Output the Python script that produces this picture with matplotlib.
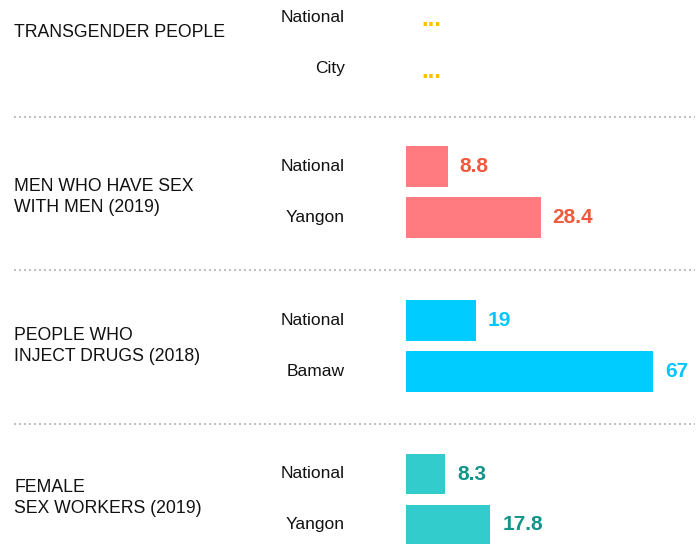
import numpy as np
import matplotlib.pyplot as plt
from matplotlib import transforms
from matplotlib.lines import Line2D

plt.rcParams['font.family'] = ['Liberation Sans', 'DejaVu Sans']

# data
groups = ['TRANSGENDER PEOPLE', 'MEN WHO HAVE SEX\nWITH MEN (2019)',
          'PEOPLE WHO\nINJECT DRUGS (2018)', 'FEMALE\nSEX WORKERS (2019)']
places = [['National', 'City'], ['National', 'Yangon'],
          ['National', 'Bamaw'], ['National', 'Yangon']]
values = [[None, None], [8.8, 28.4], [19, 67], [8.3, 17.8]]

# styling / layout
bar_colors = ['#FFC000', '#FF7B80', '#00CCFF', '#33CCCC']
text_colors = ['#FFC000', '#F05A3C', '#00C8FF', '#12948A']
xmax = [62, 62, 79.7, 62]           # each group has its own scale in the original
tops = [-8.5, 141, 295.3, 448.5]    # pixel top of each group block
label_y = [0.31, 0.6, 0.49, 0.47]   # group label position in row units
sep_y = [116.5, 270, 424]

W, H = 700, 544
fig = plt.figure(figsize=(7, 5.44), dpi=100)

for g in range(len(groups)):
    ax = fig.add_axes([406/W, 1-(tops[g]+102)/H, 294/W, 102/H])
    ax.set_xlim(0, xmax[g])
    ax.set_ylim(1.5, -0.5)
    ax.axis('off')
    trans = transforms.blended_transform_factory(fig.transFigure, ax.transData)
    for i in range(2):
        v = values[g][i]
        ax.text(345/W, i, places[g][i], transform=trans, ha='right', va='center',
                fontsize=12.5, color='#111111', clip_on=False)
        if v is None:
            ax.annotate('...', (0, i), xytext=(15, -3), textcoords='offset pixels',
                        ha='left', va='center', fontsize=17, fontweight='bold',
                        color=text_colors[g], annotation_clip=False)
        else:
            ax.barh(i, v, height=0.8, color=bar_colors[g], clip_on=False)
            ax.annotate('%g' % v, (v, i), xytext=(12, 0), textcoords='offset pixels',
                        ha='left', va='center', fontsize=15, fontweight='bold',
                        color=text_colors[g], annotation_clip=False)
    ax.text(14/W, label_y[g], groups[g], transform=trans, ha='left', va='center',
            fontsize=12.7, color='#111111', linespacing=1.34, clip_on=False)

for y in sep_y:
    fig.add_artist(Line2D([14/W, 695/W], [1-y/H, 1-y/H], color='#C0C0C0',
                          linewidth=1.44, linestyle=(0, (1, 1.5))))

fig.savefig('out.png', dpi=100)
